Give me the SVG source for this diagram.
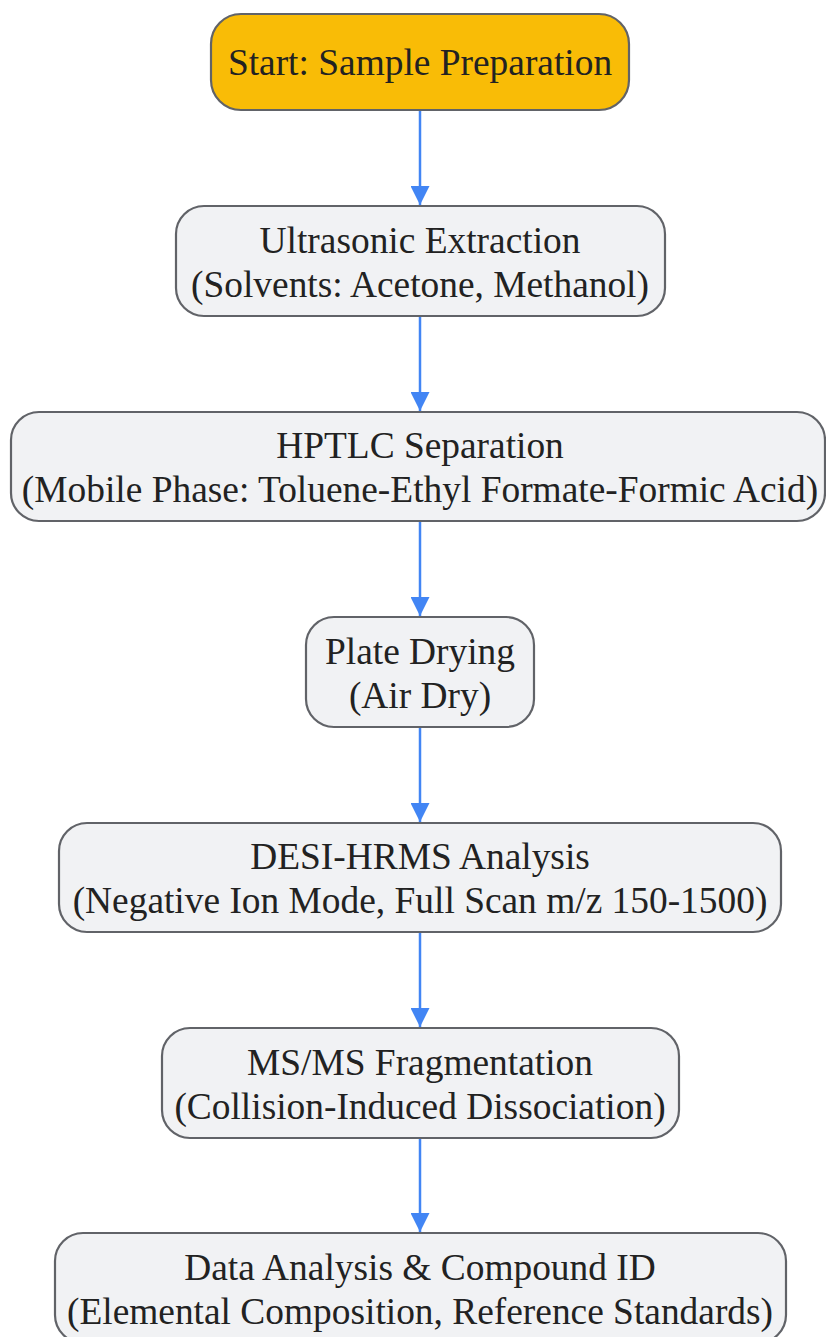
<svg xmlns="http://www.w3.org/2000/svg" width="826" height="1337" viewBox="0 0 826 1337">
<defs>
<style>
.node rect{fill:#f1f2f4;stroke:#616368;stroke-width:2.2}
.start rect{fill:#f9bc06}
text{font-family:"Liberation Serif","Times New Roman",serif;font-size:37.4px;fill:#222;text-anchor:middle}
.edge{stroke:#4285f4;stroke-width:2.5;fill:none}
</style>
<marker id="ah" viewBox="0 0 10 10" refX="10" refY="5" markerUnits="userSpaceOnUse" markerWidth="26" markerHeight="19" orient="auto">
<path d="M0,0 L10,5 L0,10 z" fill="#4285f4"/>
</marker>
</defs>
<rect width="826" height="1337" fill="#fff"/>
<g id="connectors">
<path class="edge" d="M420,110 V205" marker-end="url(#ah)"/>
<path class="edge" d="M420,316 V411" marker-end="url(#ah)"/>
<path class="edge" d="M420,521 V616" marker-end="url(#ah)"/>
<path class="edge" d="M420,727 V822" marker-end="url(#ah)"/>
<path class="edge" d="M420,932 V1027" marker-end="url(#ah)"/>
<path class="edge" d="M420,1138 V1232" marker-end="url(#ah)"/>
</g>
<g id="start" class="node start">
<rect x="211" y="14" width="418" height="96" rx="30"/>
<text x="420" y="75">Start: Sample Preparation</text>
</g>
<g id="extraction" class="node">
<rect x="176" y="206" width="489" height="110" rx="28"/>
<text x="420" y="253">Ultrasonic Extraction</text>
<text x="420" y="297">(Solvents: Acetone, Methanol)</text>
</g>
<g id="hptlc" class="node">
<rect x="11" y="412" width="814" height="109" rx="28"/>
<text x="420" y="458">HPTLC Separation</text>
<text x="420" y="502">(Mobile Phase: Toluene-Ethyl Formate-Formic Acid)</text>
</g>
<g id="drying" class="node">
<rect x="306" y="617" width="228" height="110" rx="28"/>
<text x="420" y="664">Plate Drying</text>
<text x="420" y="708">(Air Dry)</text>
</g>
<g id="desi" class="node">
<rect x="59" y="823" width="722" height="109" rx="28"/>
<text x="420" y="869">DESI-HRMS Analysis</text>
<text x="420" y="913">(Negative Ion Mode, Full Scan m/z 150-1500)</text>
</g>
<g id="msms" class="node">
<rect x="162" y="1028" width="517" height="110" rx="28"/>
<text x="420" y="1075">MS/MS Fragmentation</text>
<text x="420" y="1119">(Collision-Induced Dissociation)</text>
</g>
<g id="data" class="node">
<rect x="55" y="1233" width="731" height="110" rx="28"/>
<text x="420" y="1280">Data Analysis &amp; Compound ID</text>
<text x="420" y="1324">(Elemental Composition, Reference Standards)</text>
</g>
</svg>
